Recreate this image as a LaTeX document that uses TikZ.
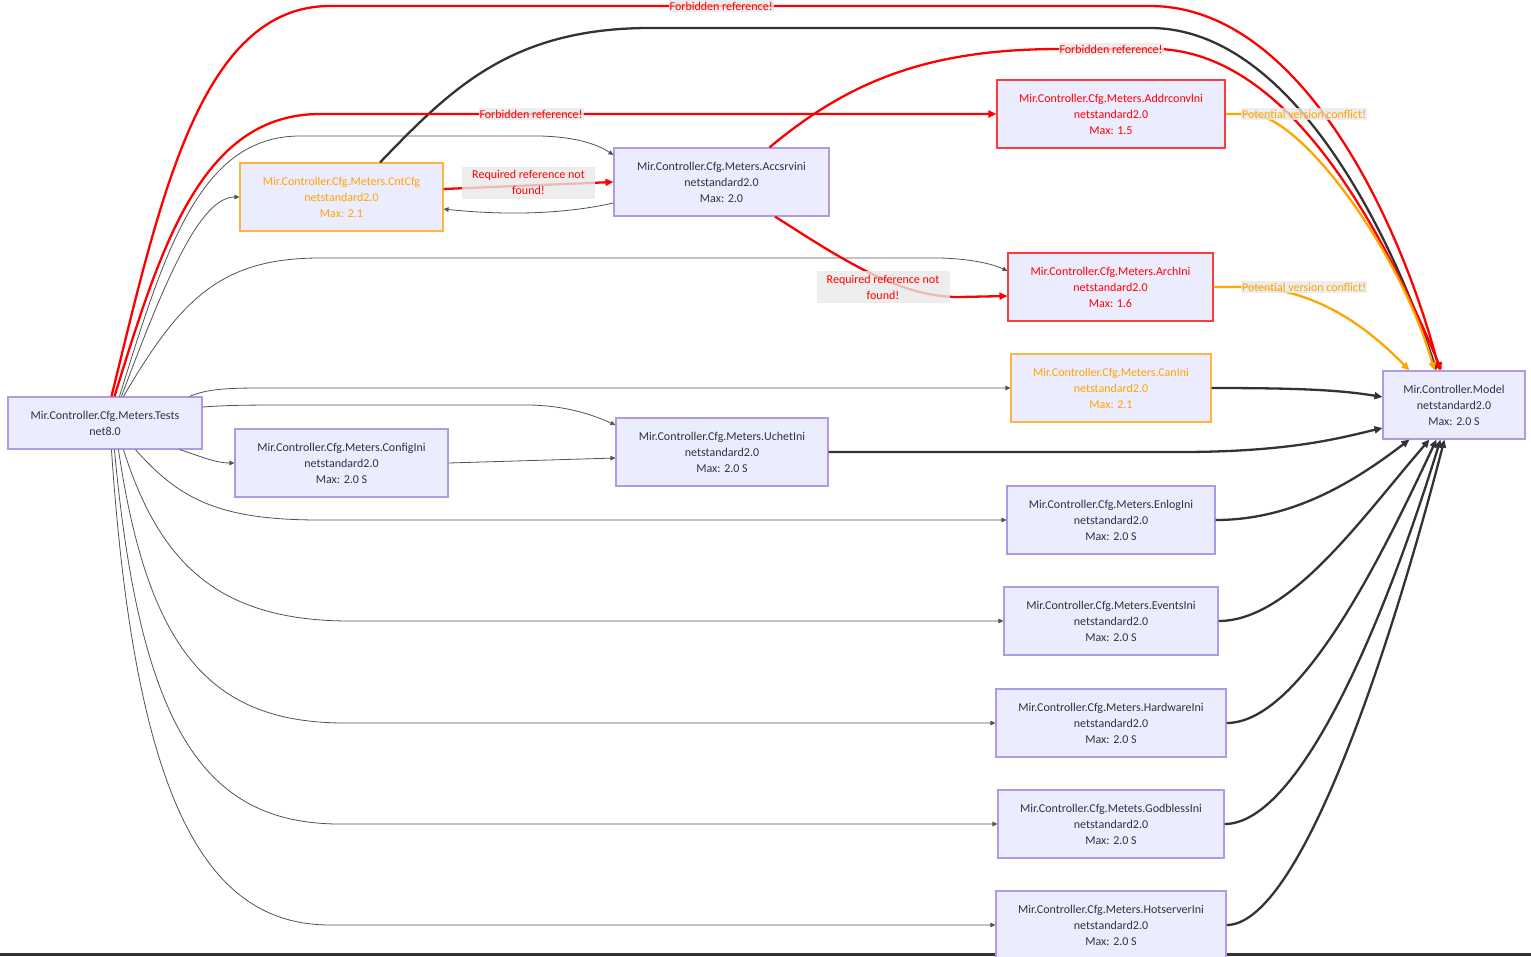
\documentclass[tikz,border=0pt]{standalone}
\usepackage{fontspec}
\setsansfont{Carlito}
\usepackage{xcolor}
\usepackage{tikz}
\usetikzlibrary{arrows.meta,calc}
\definecolor{mmfill}{RGB}{236,236,255}
\definecolor{mmedge}{RGB}{175,155,228}
\definecolor{mmtext}{RGB}{51,51,51}
\definecolor{mmred}{RGB}{255,0,0}
\definecolor{mmredbox}{RGB}{255,60,60}
\definecolor{mmorange}{RGB}{255,165,0}
\definecolor{mmorbox}{RGB}{252,182,64}
\definecolor{mmline}{RGB}{51,51,51}
\definecolor{mmlbl}{RGB}{232,232,232}
\tikzset{
  pkg/.style={
    draw=mmedge, fill=mmfill, line width=1.1pt, align=center,
    inner sep=0pt, text=mmtext, minimum height=68pt,
    font=\sffamily\fontsize{12}{16}\selectfont
  },
  orpkg/.style={pkg, draw=mmorbox, text=mmorange},
  errpkg/.style={pkg, draw=mmredbox, text=mmred},
  ref/.style={-{Triangle[length=5pt,width=4.5pt]}, draw=mmline!85, line width=0.8pt},
  hardref/.style={-{Triangle[length=8pt,width=7pt]}, draw=mmline, line width=2.3pt},
  forbref/.style={hardref, draw=mmred},
  confref/.style={hardref, draw=mmorange},
  elbl/.style={
    fill=mmlbl, fill opacity=0.8, text opacity=1, text=mmred, align=center,
    inner xsep=1pt, inner ysep=1.5pt, font=\sffamily\fontsize{12}{16}\selectfont
  },
  reqlbl/.style={elbl, minimum width=133pt, minimum height=32pt},
  conflbl/.style={elbl, text=mmorange}
}

\begin{document}
\begin{tikzpicture}[x=1pt,y=-1pt]
  \useasboundingbox (0,0) rectangle (1531,956);
  \fill[mmline] (0,953) rectangle (1531,956);

  \node[pkg, minimum width=194pt, minimum height=52pt] (tests) at (105,423)
    {Mir.Controller.Cfg.Meters.Tests\\net8.0};
  \node[orpkg, minimum width=203pt] (cntcfg) at (341.5,197)
    {Mir.Controller.Cfg.Meters.CntCfg\\netstandard2.0\\Max: 2.1};
  \node[pkg, minimum width=215pt] (accsrv) at (721.5,182)
    {Mir.Controller.Cfg.Meters.Accsrvini\\netstandard2.0\\Max: 2.0};
  \node[errpkg, minimum width=228pt] (addrconv) at (1111,114)
    {Mir.Controller.Cfg.Meters.Addrconvlni\\netstandard2.0\\Max: 1.5};
  \node[errpkg, minimum width=205pt] (arch) at (1110.5,287)
    {Mir.Controller.Cfg.Meters.ArchIni\\netstandard2.0\\Max: 1.6};
  \node[orpkg, minimum width=200pt] (can) at (1111,388)
    {Mir.Controller.Cfg.Meters.CanIni\\netstandard2.0\\Max: 2.1};
  \node[pkg, minimum width=142pt] (model) at (1454,405)
    {Mir.Controller.Model\\netstandard2.0\\Max: 2.0 S};
  \node[pkg, minimum width=213pt] (configini) at (341.5,463)
    {Mir.Controller.Cfg.Meters.ConfigIni\\netstandard2.0\\Max: 2.0 S};
  \node[pkg, minimum width=212pt] (uchet) at (722,452)
    {Mir.Controller.Cfg.Meters.UchetIni\\netstandard2.0\\Max: 2.0 S};
  \node[pkg, minimum width=208pt] (enlog) at (1111,520)
    {Mir.Controller.Cfg.Meters.EnlogIni\\netstandard2.0\\Max: 2.0 S};
  \node[pkg, minimum width=214pt] (events) at (1111,621)
    {Mir.Controller.Cfg.Meters.EventsIni\\netstandard2.0\\Max: 2.0 S};
  \node[pkg, minimum width=230pt] (hardware) at (1111,723)
    {Mir.Controller.Cfg.Meters.HardwareIni\\netstandard2.0\\Max: 2.0 S};
  \node[pkg, minimum width=226pt] (godbless) at (1111,824)
    {Mir.Controller.Cfg.Metets.GodblessIni\\netstandard2.0\\Max: 2.0 S};
  \node[pkg, minimum width=230pt] (hotserver) at (1111,925)
    {Mir.Controller.Cfg.Meters.HotserverIni\\netstandard2.0\\Max: 2.0 S};

  % thin references out of the test project
  \draw[ref] ($(tests.north west)+(114,0)$) .. controls (165,280) and (200,197) .. (cntcfg.west);
  \draw[ref] ($(tests.north west)+(112,0)$) .. controls (165,250) and (200,136) .. (300,136)
    -- (540,136) .. controls (580,137) and (600,146) .. ($(accsrv.west)+(0,-27)$);
  \draw[ref] ($(tests.north west)+(116,0)$) .. controls (180,300) and (220,258) .. (320,258)
    -- (940,258) .. controls (975,259) and (995,265) .. ($(arch.west)+(0,-16)$);
  \draw[ref] ($(tests.north west)+(182,0)$) .. controls (205,390) and (220,388) .. (260,388)
    -- (can.west);
  \draw[ref] ($(tests.east)+(0,-16)$) .. controls (230,405) and (250,405) .. (300,405)
    -- (530,405) .. controls (570,406) and (595,416) .. ($(uchet.west)+(0,-27)$);
  \draw[ref] ($(tests.south west)+(172,0)$) .. controls (200,456) and (215,463) .. (configini.west);
  \draw[ref] ($(tests.south west)+(128,0)$) .. controls (180,500) and (220,520) .. (320,520) -- (enlog.west);
  \draw[ref] ($(tests.south west)+(116,0)$) .. controls (160,565) and (220,621) .. (350,621) -- (events.west);
  \draw[ref] ($(tests.south west)+(111,0)$) .. controls (148,650) and (210,723) .. (345,723) -- (hardware.west);
  \draw[ref] ($(tests.south west)+(107,0)$) .. controls (140,730) and (205,824) .. (340,824) -- (godbless.west);
  \draw[ref] ($(tests.south west)+(104,0)$) .. controls (135,800) and (205,925) .. (330,925) -- (hotserver.west);
  \draw[ref] ($(accsrv.west)+(0,21)$) .. controls (560,215) and (500,215) .. ($(cntcfg.east)+(0,12)$);
  \draw[ref] (configini.east) -- ($(uchet.west)+(0,6)$);

  % into the model
  \draw[hardref] ($(cntcfg.north)+(38.5,0)$) .. controls (450,90) and (510,28) .. (650,28)
    -- (1150,28) .. controls (1290,28) and (1390,230) .. ($(model.north west)+(54,0)$);
  \draw[hardref] (can.east) .. controls (1300,388) and (1340,390) .. ($(model.west)+(0,-8)$);
  \draw[hardref] (uchet.east) -- (1180,452) .. controls (1290,452) and (1340,438) .. ($(model.west)+(0,23)$);
  \draw[hardref] (enlog.east) .. controls (1290,520) and (1350,485) .. ($(model.south west)+(27,0)$);
  \draw[hardref] (events.east) .. controls (1290,621) and (1360,520) .. ($(model.south west)+(47,0)$);
  \draw[hardref] (hardware.east) .. controls (1300,723) and (1380,560) .. ($(model.south west)+(54,0)$);
  \draw[hardref] (godbless.east) .. controls (1300,824) and (1385,620) .. ($(model.south west)+(58,0)$);
  \draw[hardref] (hotserver.east) .. controls (1300,925) and (1390,650) .. ($(model.south west)+(62,0)$);

  % forbidden and missing
  \draw[forbref] ($(tests.north west)+(104,0)$) .. controls (160,200) and (200,6) .. (330,6)
    -- node[elbl, pos=0.477] (fb1) {Forbidden reference!} (1150,6)
    .. controls (1300,6) and (1400,220) .. ($(model.north west)+(57,0)$);
  \draw[forbref] ($(tests.north west)+(107,0)$) .. controls (160,250) and (200,114) .. (320,114)
    -- node[elbl, pos=0.312] (fb2) {Forbidden reference!} (addrconv.west);
  \draw[forbref] ($(accsrv.north)+(48,0)$) .. controls (850,80) and (930,49) .. (1060,49)
    -- node[elbl, pos=0.51] (fb3) {Forbidden reference!} (1160,49)
    .. controls (1280,55) and (1370,200) .. ($(model.north west)+(59,0)$);
  \draw[forbref] ($(cntcfg.east)+(0,-8)$) -- node[reqlbl, yshift=3pt] (rq1) {Required reference not\\found!} (accsrv.west);
  \draw[forbref] ($(accsrv.south)+(53.5,0)$) .. controls (840,258) and (900,298) .. (960,297)
    -- ($(arch.west)+(0,9)$);
  \node[reqlbl] (rq2) at (883,287) {Required reference not\\found!};

  % version conflicts
  \draw[confref] (addrconv.east) -- (1250,114) .. controls (1300,114) and (1400,250) .. ($(model.north west)+(52,0)$);
  \node[conflbl] (vc1) at (1304,114) {Potential version conflict!};
  \draw[confref] (arch.east) -- (1250,287) .. controls (1320,290) and (1370,330) .. ($(model.north west)+(27,0)$);
  \node[conflbl] (vc2) at (1304,287) {Potential version conflict!};
\end{tikzpicture}
\end{document}
